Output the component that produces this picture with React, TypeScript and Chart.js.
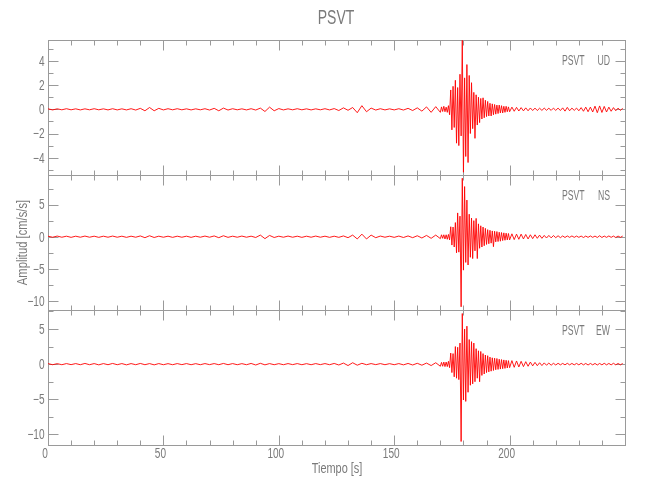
import { useEffect, useRef } from 'react';
import { Chart, registerables } from 'chart.js';

Chart.register(...registerables);

// ---------- text ----------
const chartTitle = 'PSVT';
const stationName = 'PSVT';
const componentNames = ['UD', 'NS', 'EW'];
const xAxisTitle = 'Tiempo [s]';
const yAxisTitle = 'Amplitud [cm/s/s]';

// ---------- axes ----------
const xMin = 0;
const xMax = 250;
const xTickLabels = [0, 50, 100, 150, 200];
const xMajorStep = 50;
const xMinorStep = 10;

const udRange = [-5.43, 5.73];
const nsRange = [-11.4, 9.6];
const ewRange = [-11.5, 7.7];
const udTickLabels = [-4, -2, 0, 2, 4];
const nsTickLabels = [-10, -5, 0, 5];
const ewTickLabels = [-10, -5, 0, 5];
const udMinorStep = 1;
const nsMinorStep = 2.5;
const ewMinorStep = 2.5;

// ---------- sample times (s) ----------
const quietTimes = Array.from({ length: 85 }, (_, i) => i * 2); // 0 .. 168
const eventTimes = Array.from({ length: 60 }, (_, i) => 170 + i * 0.5); // 170 .. 199.5
const codaTimes = Array.from({ length: 50 }, (_, i) => 200 + i); // 200 .. 249

// ---------- UD (cm/s/s) ----------
const udQuiet = [
  0.04, -0.05, 0.04, -0.04, 0.05, -0.04, 0.04, -0.05, 0.04, -0.04,
  0.05, -0.04, 0.04, -0.05, 0.05, -0.05, 0.04, -0.05, 0.05, -0.06,
  0.08, -0.12, 0.15, -0.12, 0.08, -0.05, 0.05, -0.04, 0.05, -0.04,
  0.04, -0.05, 0.04, -0.04, 0.05, -0.06, 0.08, -0.12, 0.1, -0.06,
  0.05, -0.04, 0.04, -0.05, 0.05, -0.06, 0.1, -0.18, 0.18, -0.12,
  0.06, -0.05, 0.04, -0.04, 0.05, -0.04, 0.04, -0.05, 0.04, -0.04,
  0.05, -0.05, 0.06, -0.1, 0.12, -0.08, 0.15, -0.28, 0.3, -0.2,
  0.1, -0.06, 0.05, -0.05, 0.04, -0.05, 0.05, -0.06, 0.08, -0.1,
  0.12, -0.15, 0.2, -0.25, 0.22,
];
const udEvent = [
  -0.25, 0.2, -0.18, 0.25, -0.2, 0.18, -0.25, 0.3, -0.45, 1.6,
  -1.7, 1.9, -1.5, 2.4, -2.8, 1.8, -3.0, 2.9, -2.2, 5.7,
  -5.2, 2.6, -3.9, 3.7, -4.4, 2.8, -2.0, 2.2, -1.6, 1.4,
  -2.4, 1.2, -1.3, 1.0, -1.1, 0.9, -0.8, 0.95, -0.7, 0.75,
  -0.6, 0.65, -0.55, 0.5, -0.55, 0.45, -0.45, 0.4, -0.4, 0.35,
  -0.35, 0.35, -0.3, 0.3, -0.3, 0.25, -0.25, 0.25, -0.2, 0.2,
];
const udCoda = [
  -0.2, 0.18, -0.16, 0.16, -0.14, 0.14, -0.13, 0.12, -0.12, 0.11,
  -0.1, 0.1, -0.1, 0.09, -0.09, 0.1, -0.08, 0.09, -0.09, 0.1,
  -0.09, 0.1, -0.1, 0.12, -0.15, 0.16, -0.12, 0.1, -0.09, 0.1,
  -0.12, 0.14, -0.16, 0.18, -0.2, 0.18, -0.22, 0.26, -0.28, 0.28,
  -0.26, 0.24, -0.22, 0.18, -0.16, 0.14, -0.12, 0.1, -0.09, 0.08,
];

// ---------- NS (cm/s/s) ----------
const nsQuiet = [
  0.08, -0.08, 0.1, -0.08, 0.08, -0.1, 0.08, -0.08, 0.1, -0.08,
  0.08, -0.1, 0.08, -0.08, 0.1, -0.08, 0.08, -0.1, 0.08, -0.08,
  0.12, -0.15, 0.15, -0.12, 0.08, -0.08, 0.08, -0.1, 0.08, -0.08,
  0.08, -0.1, 0.08, -0.08, 0.1, -0.08, 0.12, -0.15, 0.15, -0.1,
  0.08, -0.08, 0.1, -0.08, 0.08, -0.12, 0.25, -0.3, 0.2, -0.12,
  0.08, -0.08, 0.1, -0.08, 0.08, -0.1, 0.08, -0.08, 0.1, -0.08,
  0.08, -0.1, 0.08, -0.1, 0.12, -0.15, 0.25, -0.35, 0.4, -0.35,
  0.25, -0.15, 0.1, -0.08, 0.08, -0.1, 0.1, -0.12, 0.12, -0.15,
  0.15, -0.2, 0.2, -0.25, 0.25,
];
const nsEvent = [
  -0.3, 0.3, -0.25, 0.3, -0.35, 0.3, -0.4, 0.35, -0.5, 1.55,
  -1.3, 1.5, -1.6, 2.2, -2.5, 3.7, -2.4, 3.2, -10.9, 9.1,
  -5.2, 7.8, -4.0, 5.7, -4.4, 3.5, -3.2, 2.9, -3.4, 2.5,
  -2.2, 2.85, -3.4, 2.0, -1.8, 1.7, -1.6, 1.5, -1.4, 1.3,
  -1.2, 1.1, -1.1, 1.0, -1.0, 0.9, -1.55, 0.85, -0.8, 0.8,
  -0.75, 0.7, -0.7, 0.65, -0.6, 0.6, -0.55, 0.55, -0.5, 0.5,
];
const nsCoda = [
  -0.5, 0.45, -0.45, 0.4, -0.4, 0.4, -0.35, 0.35, -0.35, 0.3,
  -0.3, 0.3, -0.25, 0.25, -0.25, 0.2, -0.2, 0.2, -0.18, 0.18,
  -0.15, 0.15, -0.15, 0.12, -0.12, 0.12, -0.1, 0.12, -0.1, 0.1,
  -0.1, 0.1, -0.12, 0.1, -0.1, 0.12, -0.1, 0.1, -0.12, 0.15,
  -0.12, 0.1, -0.1, 0.12, -0.1, 0.1, -0.12, 0.1, -0.1, 0.1,
];

// ---------- EW (cm/s/s) ----------
const ewQuiet = [
  0.08, -0.08, 0.07, -0.08, 0.08, -0.07, 0.08, -0.08, 0.1, -0.08,
  0.08, -0.1, 0.08, -0.08, 0.1, -0.08, 0.08, -0.1, 0.08, -0.08,
  0.1, -0.08, 0.08, -0.1, 0.08, -0.08, 0.07, -0.08, 0.08, -0.07,
  0.08, -0.08, 0.07, -0.08, 0.08, -0.07, 0.08, -0.08, 0.1, -0.08,
  0.08, -0.08, 0.07, -0.08, 0.1, -0.12, 0.12, -0.1, 0.08, -0.08,
  0.07, -0.08, 0.08, -0.07, 0.08, -0.08, 0.07, -0.08, 0.08, -0.07,
  0.08, -0.08, 0.1, -0.12, 0.15, -0.2, 0.2, -0.15, 0.12, -0.08,
  0.08, -0.07, 0.08, -0.08, 0.07, -0.08, 0.08, -0.1, 0.1, -0.12,
  0.12, -0.15, 0.15, -0.2, 0.2,
];
const ewEvent = [
  -0.3, 0.25, -0.3, 0.3, -0.35, 0.3, -0.35, 0.4, -0.5, 1.57,
  -1.2, 1.5, -1.8, 2.5, -2.0, 2.4, -2.2, 3.0, -11.0, 7.2,
  -5.1, 5.0, -5.3, 5.4, -4.0, 3.5, -3.0, 3.2, -2.8, 3.0,
  -2.5, 2.2, -2.0, 1.9, -2.5, 1.8, -1.6, 1.5, -1.4, 1.3,
  -1.2, 1.2, -1.1, 1.0, -1.0, 0.9, -0.9, 0.85, -0.8, 0.8,
  -0.75, 0.7, -0.7, 0.65, -0.65, 0.6, -0.6, 0.55, -0.55, 0.5,
];
const ewCoda = [
  -0.5, 0.5, -0.45, 0.45, -0.4, 0.4, -0.35, 0.35, -0.3, 0.3,
  -0.25, 0.25, -0.22, 0.2, -0.2, 0.18, -0.15, 0.15, -0.15, 0.12,
  -0.12, 0.12, -0.1, 0.1, -0.1, 0.12, -0.1, 0.1, -0.1, 0.1,
  -0.1, 0.12, -0.1, 0.1, -0.12, 0.1, -0.1, 0.1, -0.12, 0.1,
  -0.1, 0.12, -0.1, 0.1, -0.1, 0.12, -0.1, 0.1, -0.1, 0.1,
];

// ---------- style ----------
const TRACE_COLOR = '#ff0000';
const FRAME_COLOR = '#9a9a9a';
const TEXT_COLOR = '#7a7a7a';
const FONT_FAMILY = "'Liberation Sans', 'DejaVu Sans', sans-serif";

const sampleTimes = [...quietTimes, ...eventTimes, ...codaTimes];
const udValues = [...udQuiet, ...udEvent, ...udCoda];
const nsValues = [...nsQuiet, ...nsEvent, ...nsCoda];
const ewValues = [...ewQuiet, ...ewEvent, ...ewCoda];

const panels = [
  { id: 'yUD', range: udRange, ticks: udTickLabels, minor: udMinorStep, values: udValues, name: componentNames[0] },
  { id: 'yNS', range: nsRange, ticks: nsTickLabels, minor: nsMinorStep, values: nsValues, name: componentNames[1] },
  { id: 'yEW', range: ewRange, ticks: ewTickLabels, minor: ewMinorStep, values: ewValues, name: componentNames[2] },
];

const fmt = (v: number) => (v < 0 ? '\u2212' + Math.abs(v) : String(v));
const snap = (v: number) => Math.round(v) + 0.5;

// condensed text (the original uses a narrow stroke font)
function narrowText(
  ctx: CanvasRenderingContext2D,
  text: string,
  x: number,
  y: number,
  size: number,
  align: CanvasTextAlign,
  squeeze: number,
  angle = 0,
) {
  ctx.save();
  ctx.translate(x, y);
  if (angle) ctx.rotate(angle);
  ctx.scale(squeeze, 1);
  ctx.font = `${size}px ${FONT_FAMILY}`;
  ctx.textAlign = align;
  ctx.textBaseline = 'middle';
  ctx.fillStyle = TEXT_COLOR;
  ctx.fillText(text, 0, 0);
  ctx.restore();
}

const framePlugin = {
  id: 'idlFrames',
  beforeDatasetsDraw(chart: any) {
    const ctx = chart.ctx as CanvasRenderingContext2D;
    const xs = chart.scales.x;
    const left = snap(xs.getPixelForValue(xMin));
    const right = snap(xs.getPixelForValue(xMax));
    ctx.save();
    const line = (x1: number, y1: number, x2: number, y2: number) => {
      ctx.beginPath();
      ctx.moveTo(x1, y1);
      ctx.lineTo(x2, y2);
      ctx.stroke();
    };
    panels.forEach((p, k) => {
      const ys = chart.scales[p.id];
      const top = snap(ys.getPixelForValue(p.range[1]));
      const bottom = snap(ys.getPixelForValue(p.range[0]));
      ctx.strokeStyle = FRAME_COLOR;
      ctx.lineWidth = 1;
      ctx.strokeRect(left, top, right - left, bottom - top);

      for (let v = xMin; v <= xMax + 1e-9; v += xMinorStep) {
        const px = snap(xs.getPixelForValue(v));
        const major = Math.abs(v / xMajorStep - Math.round(v / xMajorStep)) < 1e-9;
        const len = major ? 10 : 5;
        line(px, bottom, px, bottom - len);
        line(px, top, px, top + len);
      }
      const start = Math.ceil(p.range[0] / p.minor) * p.minor;
      for (let v = start; v <= p.range[1] + 1e-9; v += p.minor) {
        const py = snap(ys.getPixelForValue(v));
        const major = p.ticks.some((t) => Math.abs(t - v) < 1e-9);
        const len = major ? 10 : 5;
        line(left, py, left + len, py);
        line(right, py, right - len, py);
      }

      p.ticks.forEach((t) => {
        narrowText(ctx, fmt(t), left - 4, ys.getPixelForValue(t) + 1, 14, 'right', 0.72);
      });

      narrowText(ctx, stationName, 562, top + 21, 14, 'left', 0.62);
      narrowText(ctx, p.name, 610, top + 21, 14, 'right', 0.62);

      if (k === panels.length - 1) {
        xTickLabels.forEach((t) => {
          narrowText(ctx, fmt(t), xs.getPixelForValue(t) - 3, bottom + 9, 14, 'center', 0.72);
        });
      }
    });

    narrowText(ctx, chartTitle, 336, 18, 20, 'center', 0.7);
    narrowText(ctx, xAxisTitle, 337, 469, 14, 'center', 0.78);
    narrowText(ctx, yAxisTitle, 23, 242.5, 14, 'center', 0.8, -Math.PI / 2);

    ctx.restore();
  },
};

function panelScale(range: number[], k: number, n: number) {
  const span = range[1] - range[0];
  return {
    type: 'linear' as const,
    display: false,
    min: range[0] - (n - 1 - k) * span,
    max: range[1] + k * span,
  };
}

export default function App() {
  const canvasRef = useRef<HTMLCanvasElement | null>(null);

  useEffect(() => {
    document.body.style.margin = '0';
    const canvas = canvasRef.current;
    if (!canvas) return;
    const scales: any = {
      x: { type: 'linear', display: false, min: xMin, max: xMax },
    };
    panels.forEach((p, k) => {
      scales[p.id] = panelScale(p.range, k, panels.length);
    });
    const chart = new Chart(canvas, {
      type: 'line',
      data: {
        datasets: panels.map((p) => ({
          label: p.name,
          data: sampleTimes.map((t, i) => ({ x: t, y: p.values[i] })),
          xAxisID: 'x',
          yAxisID: p.id,
          borderColor: TRACE_COLOR,
          borderWidth: 0.9,
          pointRadius: 0,
          tension: 0,
          fill: false,
          clip: false as any,
        })),
      },
      options: {
        animation: false,
        responsive: false,
        devicePixelRatio: 1,
        layout: { padding: { left: 48, right: 25, top: 40, bottom: 55 } },
        scales,
        plugins: {
          legend: { display: false },
          title: { display: false },
          tooltip: { enabled: false },
        },
        events: [],
      },
      plugins: [framePlugin],
    });
    return () => chart.destroy();
  }, []);

  return (
    <div style={{ width: 650, height: 500, background: '#ffffff' }}>
      <canvas ref={canvasRef} width={650} height={500} style={{ display: 'block' }} />
    </div>
  );
}
